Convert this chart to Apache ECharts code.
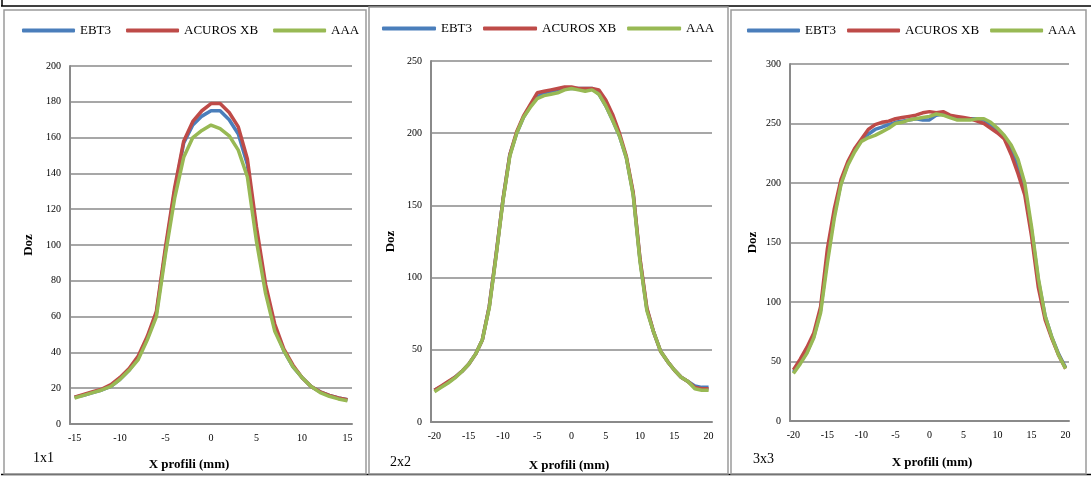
<!DOCTYPE html>
<html>
<head>
<meta charset="utf-8">
<script src="https://cdn.jsdelivr.net/npm/echarts@6/dist/echarts.min.js"></script>
<style>
  html, body { margin: 0; padding: 0; background: #fff; }
  #chart { width: 1092px; height: 477px; }
</style>
</head>
<body>
<div id="chart"></div>
<script>
// Dose profiles across the field (X, mm) for three field sizes.
const cats1x1 = ['-15','-14','-13','-12','-11','-10','-9','-8','-7','-6','-5','-4','-3','-2','-1','0',
  '1','2','3','4','5','6','7','8','9','10','11','12','13','14','15'];
const cats2x2 = ['-20','-19','-18','-17','-16','-15','-14','-13','-12','-11','-10','-9','-8','-7','-6','-5','-4','-3','-2','-1','0',
  '1','2','3','4','5','6','7','8','9','10','11','12','13','14','15','16','17','18','19','20'];
const cats3x3 = cats2x2.slice();

// 1x1 field
const ebt3_1x1   = [15, 16, 17.5, 19, 21, 25, 30, 37, 48, 62, 97, 130, 157, 167, 172, 175, 175, 170, 162, 145, 107, 75, 54, 41, 32, 26, 21, 18, 16, 14.5, 13.5];
const acuros_1x1 = [15, 16.5, 18, 19.5, 22, 26, 31, 38, 49, 63, 99, 132, 158, 169, 175, 179, 179, 174, 166, 148, 110, 78, 56, 42, 33, 26, 21, 18, 16, 14.5, 13.5];
const aaa_1x1    = [14.5, 16, 17.5, 19, 21, 25, 30, 36, 47, 60, 95, 126, 149, 160, 164, 167, 165, 161, 153, 138, 102, 73, 52, 41, 32, 26, 21, 17.5, 15.5, 14, 13];

// 2x2 field
const ebt3_2x2   = [22, 24.5, 27.5, 31, 35, 40, 47, 57, 80, 116, 154, 185, 200, 211, 219, 225, 228, 229, 230, 231, 231, 231, 231, 231, 227, 219, 209, 198, 183, 158, 112, 78, 62, 49, 42, 36, 31, 28, 25, 24, 24];
const acuros_2x2 = [22, 25, 28, 31, 35, 40, 47, 57, 80, 116, 154, 185, 201, 212, 220, 228, 229, 230, 231, 232, 232, 231, 231, 231, 230, 223, 213, 200, 184, 159, 113, 79, 62, 49, 42, 36, 31, 28, 24, 23, 23];
const aaa_2x2    = [21, 24, 27, 30.5, 35, 40, 47, 57, 79, 115, 153, 184, 200, 211, 218, 224, 226, 227, 228, 230, 231, 230, 229, 230, 227, 219, 209, 198, 183, 157, 111, 77, 62, 49, 42, 36, 31, 28, 23, 22, 22];

// 3x3 field
const ebt3_3x3   = [41, 49, 58, 71, 93, 138, 173, 200, 216, 228, 236, 241, 245, 247, 249, 251, 252, 253, 254, 253, 253, 257, 258, 256, 254, 254, 254, 254, 253, 249, 244, 238, 228, 213, 194, 160, 118, 88, 70, 56, 45];
const acuros_3x3 = [43, 52, 62, 74, 96, 145, 178, 203, 218, 229, 237, 245, 249, 251, 252, 254, 255, 256, 257, 259, 260, 259, 260, 257, 256, 255, 254, 252, 250, 246, 242, 237, 224, 208, 190, 155, 112, 85, 69, 55, 44];
const aaa_3x3    = [40, 48, 57, 70, 91, 133, 170, 199, 215, 226, 235, 238, 240, 243, 246, 250, 251, 253, 254, 255, 256, 258, 257, 255, 253, 253, 253, 254, 254, 251, 246, 240, 232, 220, 200, 163, 120, 88, 70, 55, 44];

const seriesNames = ['EBT3', 'ACUROS XB', 'AAA'];
const seriesColors = ['#4A7EBB', '#BE4B48', '#98B954'];
const yMax = [200, 250, 300];
const yStep = [20, 50, 50];
const panelTags = ['1x1', '2x2', '3x3'];
const xTitle = 'X profili (mm)';
const yTitle = 'Doz';

const panels = [
  { cats: cats1x1, data: [ebt3_1x1, acuros_1x1, aaa_1x1] },
  { cats: cats2x2, data: [ebt3_2x2, acuros_2x2, aaa_2x2] },
  { cats: cats3x3, data: [ebt3_3x3, acuros_3x3, aaa_3x3] }
];

const FONT = '"Liberation Serif", "Times New Roman", serif';
const GRID_GRAY = '#8a8a8a';

// plot area boxes
const grids = [
  { left: 70,  top: 66, width: 282, height: 358 },
  { left: 431, top: 61, width: 281, height: 361 },
  { left: 790, top: 64, width: 279, height: 357 }
];
const legendPos = [
  { left: 22,  top: 24, gap: 15, w: 53 },
  { left: 382, top: 22, gap: 11, w: 54 },
  { left: 747, top: 24, gap: 11, w: 53 }
];
const nameGaps = [35, 34, 31];
const xTitlePos = [[189, 465], [569, 466], [932, 463]];
const tagPos = [[33, 458], [390, 462], [753, 459]];

const option = {
  animation: false,
  backgroundColor: '#fff',
  grid: grids,
  legend: legendPos.map(p => ({
    left: p.left, top: p.top, padding: 0,
    itemWidth: p.w, itemHeight: 4, itemGap: p.gap,
    icon: 'roundRect',
    data: seriesNames,
    selectedMode: false,
    textStyle: { fontFamily: FONT, fontSize: 13, color: '#000' }
  })),
  xAxis: panels.map((p, i) => ({
    type: 'category', gridIndex: i, data: p.cats, boundaryGap: true,
    axisLine: { lineStyle: { color: GRID_GRAY, width: 2 } },
    axisTick: { show: false },
    axisLabel: { interval: 4, fontFamily: FONT, fontSize: 10, color: '#000', margin: 9 },
    splitLine: { show: false }
  })),
  yAxis: panels.map((p, i) => ({
    type: 'value', gridIndex: i, min: 0, max: yMax[i], interval: yStep[i],
    name: yTitle, nameLocation: 'middle', nameGap: nameGaps[i],
    nameTextStyle: { fontFamily: FONT, fontSize: 13, fontWeight: 'bold', color: '#000' },
    axisLine: { show: true, lineStyle: { color: GRID_GRAY, width: 2 } },
    axisTick: { show: false },
    axisLabel: { fontFamily: FONT, fontSize: 10, color: '#000', margin: 9 },
    splitLine: { lineStyle: { color: GRID_GRAY, width: 1.6 } }
  })),
  series: [],
  graphic: []
};

panels.forEach((p, i) => {
  p.data.forEach((vals, k) => {
    option.series.push({
      type: 'line', name: seriesNames[k], xAxisIndex: i, yAxisIndex: i,
      data: vals, showSymbol: false, symbol: 'none',
      color: seriesColors[k],
      lineStyle: { color: seriesColors[k], width: 3.5 },
      z: 2 + k
    });
  });
});

// frames around each panel and the page rules
const frames = [
  { x: 4, y: 10, w: 362, h: 464 },
  { x: 369, y: 7, w: 359, h: 467 },
  { x: 731, y: 10, w: 355, h: 464 }
];
frames.forEach(f => {
  option.graphic.push({
    type: 'rect', silent: true, z: 1,
    shape: { x: f.x, y: f.y, width: f.w, height: f.h },
    style: { fill: 'none', stroke: '#9a9a9a', lineWidth: 1.5 }
  });
});
option.graphic.push(
  { type: 'line', silent: true, shape: { x1: 1, y1: 6, x2: 1091, y2: 6 }, style: { stroke: '#000', lineWidth: 1.5 } },
  { type: 'line', silent: true, shape: { x1: 2, y1: 0, x2: 2, y2: 6 }, style: { stroke: '#000', lineWidth: 1.5 } },
  { type: 'line', silent: true, shape: { x1: 1, y1: 474.5, x2: 1091, y2: 474.5 }, style: { stroke: '#000', lineWidth: 1.5 } }
);
xTitlePos.forEach(pos => {
  option.graphic.push({
    type: 'text', silent: true, x: pos[0], y: pos[1],
    style: { text: xTitle, font: 'bold 13px ' + FONT, fill: '#000', textAlign: 'center', textVerticalAlign: 'middle' }
  });
});
tagPos.forEach((pos, i) => {
  option.graphic.push({
    type: 'text', silent: true, x: pos[0], y: pos[1],
    style: { text: panelTags[i], font: '14px ' + FONT, fill: '#000', textAlign: 'left', textVerticalAlign: 'middle' }
  });
});

const chart = echarts.init(document.getElementById('chart'), null, { renderer: 'canvas' });
chart.setOption(option);
</script>
</body>
</html>
